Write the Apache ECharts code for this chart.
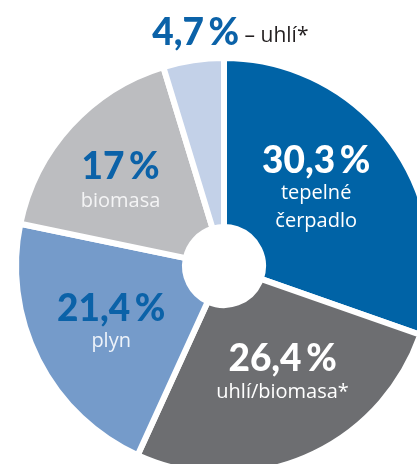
<!DOCTYPE html>
<html>
<head>
<meta charset="utf-8">
<script src="https://cdn.jsdelivr.net/npm/echarts@6/dist/echarts.min.js"></script>
<style>
  html, body { margin: 0; padding: 0; background: #fff; }
  #chart { width: 417px; height: 464px; }
</style>
</head>
<body>
<div id="chart"></div>
<script>
// data
var shares = [30.3, 26.4, 21.4, 17, 4.7];
var shareTexts = ['30,3', '26,4', '21,4', '17', '4,7'];
var sources = ['tepelné\nčerpadlo', 'uhlí/biomasa*', 'plyn', 'biomasa', 'uhlí*'];
var colors = ['#0063a6', '#6d6e71', '#759bca', '#bcbdc0', '#c3d1e8'];

// label look for each slice (big %, small text, offsets)
var pctColors = ['#ffffff', '#ffffff', '#0b62a8', '#0b62a8', '#0b62a8'];
var subColors = ['#ffffff', '#ffffff', '#eef3fa', '#f4f4f5', '#231f20'];
var offsets = [[-11, -4], [9, -9], [0, 0], [-10, 2], [25, -108]];

var mychart = echarts.init(document.getElementById('chart'));

var seriesData = shares.map(function (v, i) {
    var text;
    if (i === 4) {
        text = '{p|' + shareTexts[i] + '\u2009%}{s| – ' + sources[i] + '}';
    } else {
        text = '{p|' + shareTexts[i] + '\u2009%}\n' +
            sources[i].split('\n').map(function (s) { return '{s|' + s + '}'; }).join('\n');
    }
    return {
        value: v,
        name: sources[i],
        itemStyle: { color: colors[i] },
        label: {
            formatter: text,
            offset: offsets[i],
            rich: {
                p: {
                    fontFamily: 'Lato',
                    fontWeight: 900,
                    fontSize: 37,
                    color: pctColors[i],
                    lineHeight: 37,
                    align: 'center'
                },
                s: {
                    fontFamily: 'Open Sans',
                    fontSize: i === 4 ? 21 : 20,
                    color: subColors[i],
                    lineHeight: i === 3 ? 31 : 28,
                    align: 'center',
                    padding: i === 4 ? [6, 0, 0, 0] : 0
                }
            }
        }
    };
});

option = {
    animation: false,
    series: [
        {
            type: 'pie',
            center: [224, 266],
            radius: [39, 208],
            startAngle: 90,
            clockwise: true,
            silent: true,
            itemStyle: {
                borderColor: '#ffffff',
                borderWidth: 6
            },
            label: {
                show: true,
                position: 'inside'
            },
            labelLine: { show: false },
            data: seriesData
        }
    ]
};

mychart.setOption(option);
</script>
</body>
</html>
